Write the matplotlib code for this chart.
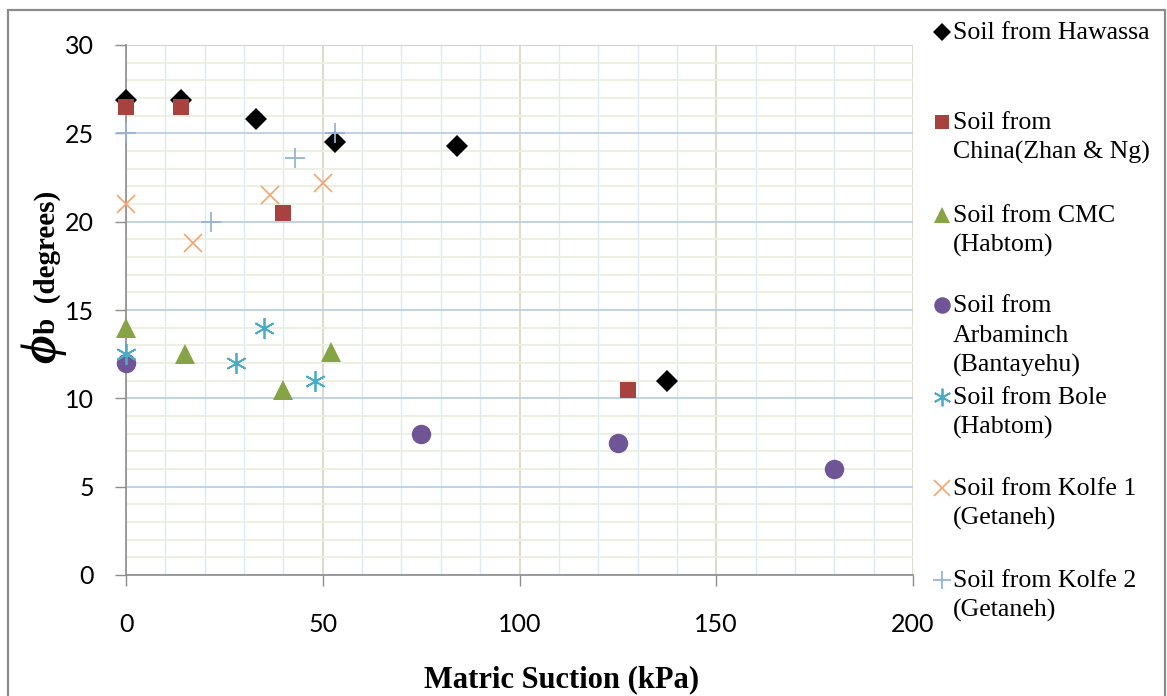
import numpy as np
import matplotlib
matplotlib.use("Agg")
import matplotlib.pyplot as plt
from matplotlib.patches import Rectangle
from matplotlib.lines import Line2D

# ---- data ----
hawassa_x = [0, 14, 33, 53, 84, 137.5]
hawassa_y = [26.9, 26.9, 25.8, 24.5, 24.3, 11.0]
china_x = [0, 14, 40, 127.5]
china_y = [26.5, 26.5, 20.5, 10.5]
cmc_x = [0, 15, 40, 52]
cmc_y = [14.0, 12.5, 10.5, 12.6]
arba_x = [0, 75, 125, 180]
arba_y = [12.0, 8.0, 7.5, 6.0]
bole_x = [0, 28, 35, 48]
bole_y = [12.5, 12.0, 14.0, 11.0]
kolfe1_x = [0, 17, 36.5, 50]
kolfe1_y = [21.0, 18.8, 21.5, 22.2]
kolfe2_x = [0, 21.5, 43, 53]
kolfe2_y = [25.0, 20.0, 23.6, 25.0]

labels = ["Soil from Hawassa",
          "Soil from\nChina(Zhan & Ng)",
          "Soil from CMC\n(Habtom)",
          "Soil from\nArbaminch\n(Bantayehu)",
          "Soil from Bole\n(Habtom)",
          "Soil from Kolfe 1\n(Getaneh)",
          "Soil from Kolfe 2\n(Getaneh)"]
x_ticks = [0, 50, 100, 150, 200]
y_ticks = [0, 5, 10, 15, 20, 25, 30]

W, H = 1167, 696
fig = plt.figure(figsize=(W / 100, H / 100), dpi=100)
ax = fig.add_axes([126 / W, 1 - 575 / H, (913 - 126) / W, (575 - 45) / H])

serif = ["Liberation Serif", "DejaVu Serif"]
sans = ["Lato", "DejaVu Sans"]

styles = [
    dict(marker="D", color="black", ms=11, mew=0),
    dict(marker="s", color="#A8423F", ms=12, mew=0),
    dict(marker="^", color="#86A445", ms=14, mew=0),
    dict(marker="o", color="#6F5595", ms=14, mew=0),
    dict(marker=(6, 2, 0), color="#4BACC6", ms=15, mew=1.3),
    dict(marker="x", color="#F4A46E", ms=13, mew=1.2),
    dict(marker="+", color="#95B3D7", ms=15, mew=1.3),
]
series = [(hawassa_x, hawassa_y), (china_x, china_y), (cmc_x, cmc_y),
          (arba_x, arba_y), (bole_x, bole_y), (kolfe1_x, kolfe1_y),
          (kolfe2_x, kolfe2_y)]
for (xs, ys), st in zip(series, styles):
    ax.plot(xs, ys, ls="none", zorder=3, clip_on=False, **st)

ax.set_xlim(0, 200)
ax.set_ylim(0, 30)
ax.set_xticks(x_ticks)
ax.set_yticks(y_ticks)
ax.set_xticks(np.arange(0, 201, 10), minor=True)
ax.set_yticks(np.arange(0, 31, 1), minor=True)
ax.set_axisbelow(True)
ax.grid(which="minor", axis="x", color="#DCEBF3", lw=1.0)
ax.grid(which="minor", axis="y", color="#EBEFDD", lw=1.3)
ax.grid(which="major", axis="x", color="#DDD8C4", lw=1.3)
ax.grid(which="major", axis="y", color="#BCCFE6", lw=1.3)

for s in ["top", "right"]:
    ax.spines[s].set_visible(False)
for s in ["left", "bottom"]:
    ax.spines[s].set_color("#8C8C8C")
    ax.spines[s].set_linewidth(1.2)

ax.tick_params(which="minor", length=0)
ax.tick_params(which="major", direction="out", length=8, width=1.0,
               color="#8C8C8C", labelsize=18)
ax.tick_params(axis="y", pad=15)
ax.tick_params(axis="x", pad=19)
for t in ax.get_xticklabels() + ax.get_yticklabels():
    t.set_family(sans)

fig.text(562 / W, 1 - 680 / H, "Matric Suction (kPa)", family=serif,
         fontweight="bold", fontsize=22, ha="center", va="center")
fig.text(43 / W, 1 - 349 / H, "\u03d5", family=serif, fontweight="bold",
         style="italic", fontsize=36, rotation=90, ha="center", va="center")
fig.text(47 / W, 1 - 262 / H, "b  (degrees)", family=serif, fontweight="bold",
         fontsize=21, rotation=90, ha="center", va="center")

# legend: markers aligned on the first line of each label, fixed spacing
marker_y = [32, 122, 215, 305, 397, 488, 580]
line_step = 30
for st, lab, y in zip(styles, labels, marker_y):
    st2 = dict(st)
    st2["ms"] = st["ms"] * 0.85
    fig.add_artist(Line2D([942 / W], [1 - y / H], ls="none",
                          transform=fig.transFigure, **st2))
    for k, line in enumerate(lab.split("\n")):
        fig.text(953 / W, 1 - (y + 7 + k * line_step) / H, line,
                 family=serif, fontsize=18.6, ha="left", va="baseline")

fig.add_artist(Rectangle((8 / W, -0.05), (1165 - 8) / W, 1.05 - 10 / H,
                         transform=fig.transFigure, fill=False,
                         edgecolor="#8C8C8C", lw=1.6))

fig.savefig("out.png", dpi=100)
